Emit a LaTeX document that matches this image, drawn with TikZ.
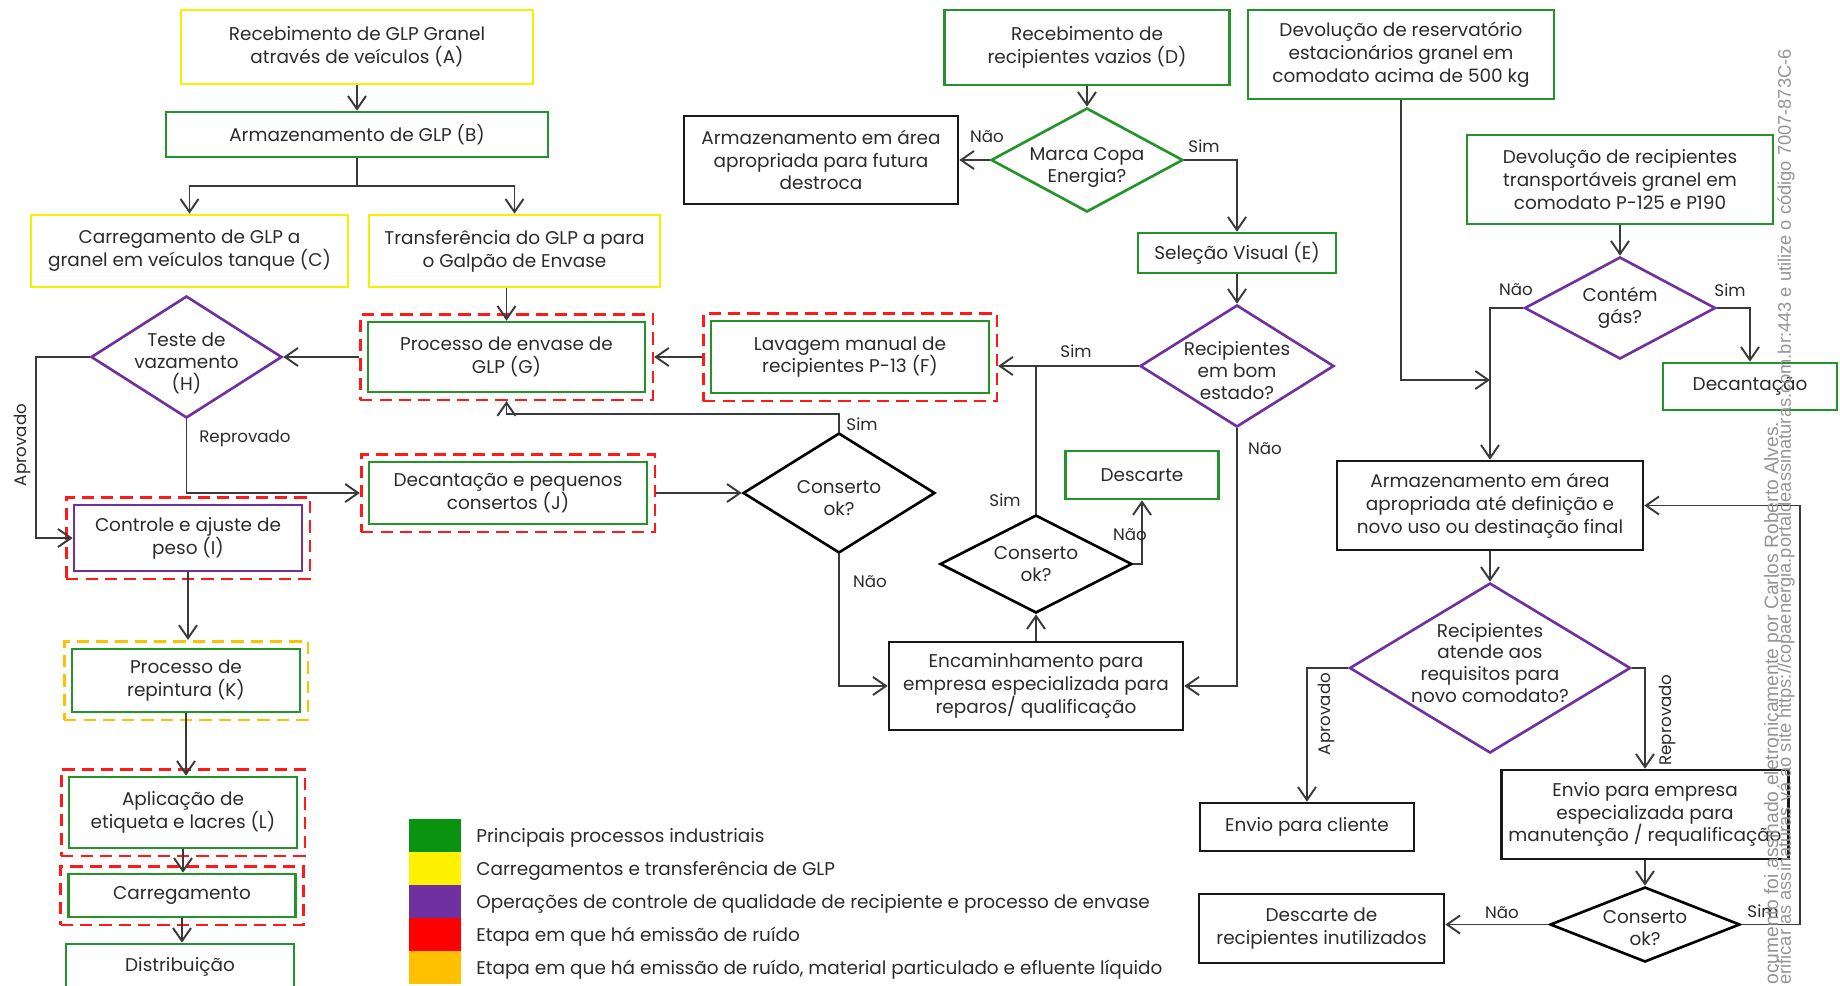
\documentclass[tikz,border=0pt]{standalone}
\usepackage{fontspec}
\setmainfont{Poppins}
\newfontfamily\wmfont{Liberation Sans}
\usetikzlibrary{arrows.meta}
\usetikzlibrary{shapes.geometric}
\usetikzlibrary{fit}
\definecolor{cgreen}{HTML}{22942A}
\definecolor{lgreen}{HTML}{0A9310}
\definecolor{cyellow}{HTML}{F5F200}
\definecolor{cpurple}{HTML}{7030A0}
\definecolor{cred}{HTML}{FF1A1A}
\definecolor{corange}{HTML}{FFC000}
\definecolor{ctext}{HTML}{2B2B2B}
\definecolor{cline}{HTML}{3A3A3A}

\tikzset{
  sz/.style 2 args={minimum width=#1*0.02cm, minimum height=#2*0.02cm},
  box/.style={draw, line width=1.5pt, align=center, inner sep=2pt, text=ctext, font=\fontsize{10.5}{13}\selectfont},
  gbox/.style={box, draw=cgreen},
  ybox/.style={box, draw=cyellow},
  pbox/.style={box, draw=cpurple},
  kbox/.style={box, draw=black!90},
  diam/.style={diamond, draw, line width=1.5pt, inner sep=0pt},
  dtxt/.style={align=center, inner sep=0pt, text=ctext, font=\fontsize{10.5}{12.5}\selectfont},
  noise/.style={draw=cred, dash pattern=on 7pt off 4pt, line width=1.5pt, inner sep=0.13cm},
  dust/.style={noise, draw=corange},
  arr/.style={draw=cline, line width=1.1pt, -{Straight Barb[length=2.6mm,width=3.6mm]}},
  lnk/.style={draw=cline, line width=1.1pt},
  lbl/.style={text=ctext, inner sep=0pt, font=\fontsize{9.5}{11}\selectfont},
  lsq/.style={inner sep=0pt, sz={52}{33}},
  leg/.style={anchor=west, inner sep=0pt, text=ctext, font=\fontsize{10.5}{12}\selectfont},
  wm/.style={anchor=west, rotate=90, inner sep=0pt, text=black!42, font=\wmfont\fontsize{11}{13}\selectfont},
}

\begin{document}
\begin{tikzpicture}[x=0.02cm,y=-0.02cm]
\useasboundingbox (0,0) rectangle (1840,985);
% left column
\node[ybox, sz={352}{74}] (A) at (357,47) {Recebimento de GLP Granel\\através de veículos (A)};
\node[gbox, sz={382}{45}] (B) at (357,134.5) {Armazenamento de GLP (B)};
\node[ybox, sz={317}{72}] (C) at (189.5,251) {Carregamento de GLP a\\granel em veículos tanque (C)};
\node[ybox, sz={291}{72}] (T) at (514.5,251) {Transferência do GLP a para\\o Galpão de Envase};
\node[gbox, sz={277}{70}] (G) at (506.5,357) {Processo de envase de\\GLP (G)};
\node[noise, fit=(G)] (Gf) {};
\node[diam, draw=cpurple, sz={191}{122}] (H) at (186.5,357) {};
\node[dtxt] (Ht) at ([yshift=-0.12cm]H.center) {Teste de\\vazamento\\(H)};
\node[pbox, sz={228}{66}] (I) at (188,538) {Controle e ajuste de\\peso (I)};
\node[noise, fit=(I)] (If) {};
\node[gbox, sz={278}{62}] (J) at (508,493) {Decantação e pequenos\\consertos (J)};
\node[noise, fit=(J)] (Jf) {};
\node[gbox, sz={228}{63}] (K) at (186,680.5) {Processo de\\repintura (K)};
\node[dust, fit=(K)] (Kf) {};
\node[gbox, sz={228}{71}] (L) at (183,812.5) {Aplicação de\\etiqueta e lacres (L)};
\node[noise, fit=(L)] (Lf) {};
\node[gbox, sz={227}{43}] (Ca) at (182,895.5) {Carregamento};
\node[noise, fit=(Ca)] (Caf) {};
\node[gbox, sz={228}{46}] (Di) at (180,967) {Distribuição};

% middle
\node[gbox, sz={285}{75}] (D) at (1087,47.5) {Recebimento de\\recipientes vazios (D)};
\node[diam, draw=cgreen, sz={192}{104}] (M) at (1087,160) {};
\node[dtxt] (Mt) at ([yshift=-0.15cm]M.center) {Marca Copa\\Energia?};
\node[kbox, sz={274}{88}] (S1) at (821,160) {Armazenamento em área\\apropriada para futura\\destroca};
\node[gbox, sz={198}{40}] (E) at (1237,253) {Seleção Visual (E)};
\node[diam, draw=cpurple, sz={194}{122}] (R) at (1237,366) {};
\node[dtxt] (Rt) at ([yshift=-0.1cm]R.center) {Recipientes\\em bom\\estado?};
\node[gbox, sz={278}{72}] (F) at (850,357) {Lavagem manual de\\recipientes P-13 (F)};
\node[noise, fit=(F)] (Ff) {};
\node[diam, draw=black, sz={192}{120}] (C1) at (839,493) {};
\node[dtxt] (C1t) at ([yshift=-0.1cm]C1.center) {Conserto\\ok?};
\node[kbox, sz={294}{88}] (En) at (1036,686) {Encaminhamento para\\empresa especializada para\\reparos/ qualificação};
\node[diam, draw=black, sz={192}{98}] (C2) at (1036,564) {};
\node[dtxt] (C2t) at (C2) {Conserto\\ok?};
\node[gbox, sz={153}{48}] (De) at (1142,475) {Descarte};

% right
\node[gbox, sz={306}{89}] (V1) at (1401,54.5) {Devolução de reservatório\\estacionários granel em\\comodato acima de 500 kg};
\node[gbox, sz={306}{89}] (V2) at (1620,179.5) {Devolução de recipientes\\transportáveis granel em\\comodato P-125 e P190};
\node[diam, draw=cpurple, sz={191}{102}] (Gs) at (1620,308) {};
\node[dtxt] (Gst) at (Gs) {Contém\\gás?};
\node[gbox, sz={174}{47}] (Dc) at (1750,386.5) {Decantação};
\node[kbox, sz={306}{89}] (S2) at (1490,505.5) {Armazenamento em área\\apropriada até definição e\\novo uso ou destinação final};
\node[diam, draw=cpurple, sz={281}{170}] (Rq) at (1490,668) {};
\node[dtxt] (Rqt) at ([yshift=0.1cm]Rq.center) {Recipientes\\atende aos\\requisitos para\\novo comodato?};
\node[kbox, sz={214}{48}] (Cl) at (1307,827) {Envio para cliente};
\node[kbox, sz={287}{89}] (Em) at (1645,814.5) {Envio para empresa\\especializada para\\manutenção / requalificação};
\node[diam, draw=black, sz={190}{75}] (C3) at (1645,924.5) {};
\node[dtxt] (C3t) at ([yshift=-0.08cm]C3.center) {Conserto\\ok?};
\node[kbox, sz={245}{69}] (Dx) at (1321.5,928.5) {Descarte de\\recipientes inutilizados};
\coordinate (jn) at (1490,380);

% connectors
\draw[arr] (A) -- (B);
\draw[lnk] (B.south) -- ++(0,28) coordinate (b1);
\draw[arr] (b1) -| (C.north);
\draw[arr] (b1) -| (T.north);
\draw[arr] (G.north |- T.south) -- (G.north);
\draw[arr] (Gf.west) -- (H.east);
\draw[arr] (H.west) -- ++(-54,0) |- (I.west);
\draw[arr] (H.south) |- (Jf.west);
\draw[arr] (I.south) -- (I.south |- Kf.north);
\draw[arr] (K.south) -- (K.south |- L.north);
\draw[arr] (L.south) -- (L.south |- Ca.north);
\draw[arr] (Ca.south) -- (Ca.south |- Di.north);
\draw[arr] (D.south) -- (M.north);
\draw[arr] (M.west) -- (S1.east);
\draw[arr] (M.east) -| (E.north);
\draw[arr] (E.south) -- (R.north);
\draw[arr] (R.west) -- (R.west -| Ff.east);
\draw[arr] (Ff.west) -- (Gf.east);
\draw[lnk] (C2.north) -- (C2.north |- R.west);
\draw[arr] (R.south) |- (En.east);
\draw[arr] (Jf.east) -- (C1.west);
\draw[arr] (C1.north) -- ++(0,-18) -| (Gf.south);
\draw[arr] (C1.south) |- (En.west);
\draw[arr] (En.north) -- (C2.south);
\draw[arr] (C2.east) -| (De.south);
\draw[arr] (V1.south) |- (jn);
\draw[arr] (V2.south) -- (Gs.north);
\draw[arr] (Gs.west) -| (S2.north);
\draw[arr] (Gs.east) -| (Dc.north);
\draw[arr] (S2.south) -- (Rq.north);
\draw[arr] (Rq.west) -| (Cl.north);
\draw[arr] (Rq.east) -| (Em.north);
\draw[arr] (Em.south) -- (C3.north);
\draw[arr] (C3.west) -- (C3.west -| Dx.east);
\draw[arr] (C3.east) -- ++(59,0) |- (S2.east);

% branch labels
\node[lbl] (n1) at (987,137) {Não};
\node[lbl] (s1) at (1204,146) {Sim};
\node[lbl, rotate=90] (ap1) at (22,445) {Aprovado};
\node[lbl] (rp1) at (245,438) {Reprovado};
\node[lbl] (s2) at (1076,351) {Sim};
\node[lbl] (s3) at (862,424) {Sim};
\node[lbl] (n2) at (870,582) {Não};
\node[lbl] (s4) at (1005,500) {Sim};
\node[lbl] (n3) at (1130,535) {Não};
\node[lbl] (n4) at (1265,449) {Não};
\node[lbl] (n5) at (1516,290) {Não};
\node[lbl] (s5) at (1730,290) {Sim};
\node[lbl, rotate=90] (ap2) at (1326,714) {Aprovado};
\node[lbl, rotate=90] (rp2) at (1667,720) {Reprovado};
\node[lbl] (n6) at (1502,913) {Não};
\node[lbl] (s6) at (1763,911) {Sim};

% legend
\node[lsq, fill=lgreen] (k1) at (435,835.5) {};
\node[lsq, fill=yellow] (k2) at (435,868.5) {};
\node[lsq, fill=cpurple] (k3) at (435,901.5) {};
\node[lsq, fill=red] (k4) at (435,934.5) {};
\node[lsq, fill=corange] (k5) at (435,967.5) {};
\node[leg] (t1) at (476,838) {Principais processos industriais};
\node[leg] (t2) at (476,871) {Carregamentos e transferência de GLP};
\node[leg] (t3) at (476,904) {Operações de controle de qualidade de recipiente e processo de envase};
\node[leg] (t4) at (476,937) {Etapa em que há emissão de ruído};
\node[leg] (t5) at (476,970) {Etapa em que há emissão de ruído, material particulado e efluente líquido};

% signature stamp
\node[wm] (w1) at (1773,985) {ocumento foi assinado eletronicamente por Carlos Roberto Alves.};
\node[wm, font=\wmfont\fontsize{10.4}{12}\selectfont] (w2) at (1786,985) {erificar as assinaturas vá ao site https://copaenergia.portaldeassinaturas.com.br:443 e utilize o código 7007-873C-6};
\end{tikzpicture}
\end{document}
